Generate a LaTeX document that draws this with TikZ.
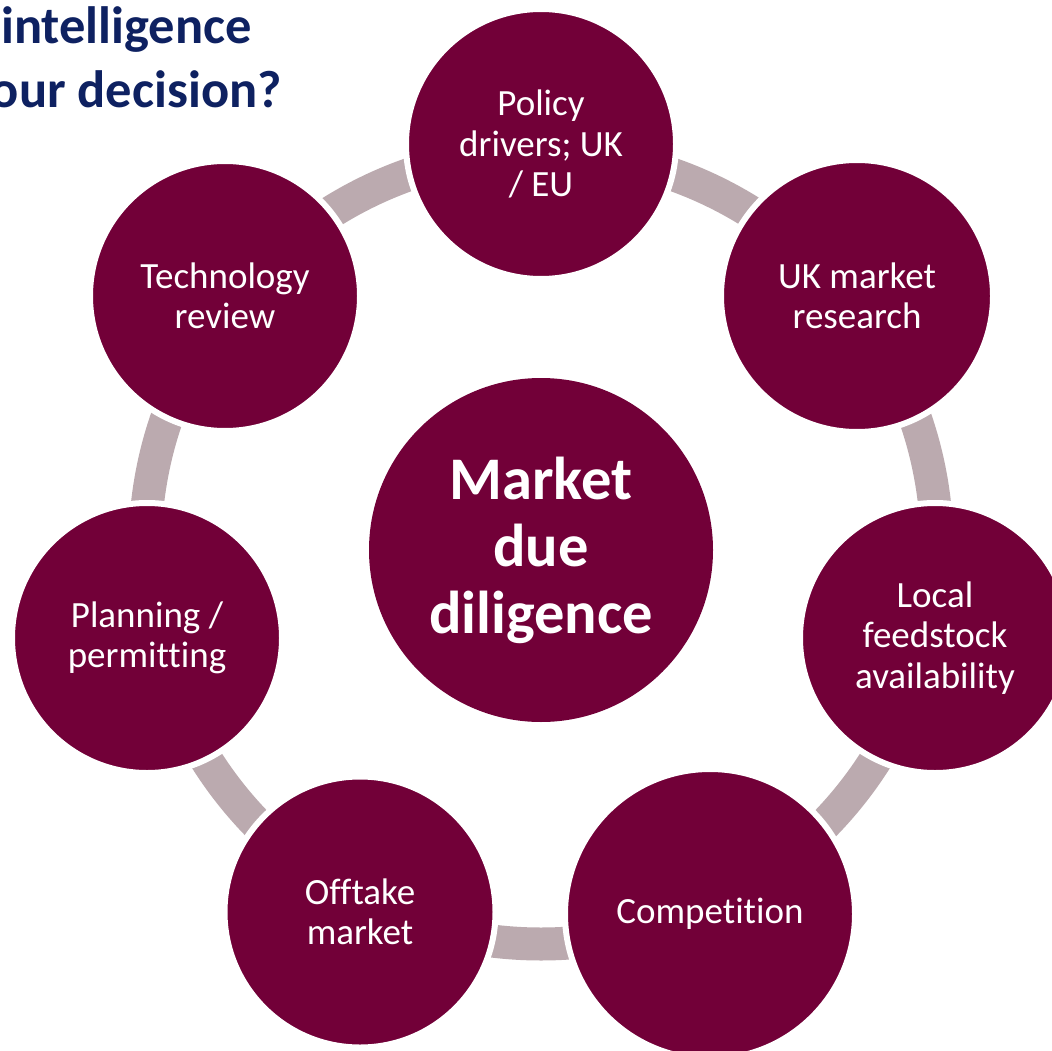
\documentclass[tikz,border=0pt]{standalone}
\usepackage{fontspec}
\setmainfont{Carlito}[Ligatures=CommonOff]
\definecolor{ddmaroon}{HTML}{720038}
\definecolor{ddgray}{HTML}{BBAAAF}
\definecolor{ddnavy}{HTML}{0E2161}
\begin{document}
\begin{tikzpicture}[x=1pt,y=-1pt,
  bubble/.style={circle, fill=ddmaroon, draw=white, line width=6pt, inner sep=0pt,
    align=center, text=white, font=\fontsize{37}{40.5}\selectfont},
  hub/.style={circle, fill=ddmaroon, inner sep=0pt, align=center, text=white,
    font=\fontsize{60.5}{67}\selectfont\bfseries},
  titletext/.style={anchor=base east, text=ddnavy, font=\fontsize{52.5}{63}\selectfont\bfseries, inner sep=0pt}
]
\useasboundingbox (0,0) rectangle (1052,1051);
\fill[white] (0,0) rectangle (1052,1051);
\coordinate (ring) at (541,548);
\draw[ddgray, line width=33pt] (ring) circle (396pt);

\node[titletext] (t1) at (252,44) {intelligence};
\node[titletext] (t2) at (282,108) {our decision?};

\node[bubble, minimum size=270pt] (policy) at (541,144) {Policy\\drivers; UK\\/ EU};
\node[bubble, minimum size=272pt] (ukmarket) at (857,296) {UK market\\research};
\node[bubble, minimum size=270pt] (local) at (935,638) {Local\\feedstock\\availability};
\node[bubble, minimum size=290pt] (comp) at (710,914) {Competition};
\node[bubble, minimum size=271pt] (offtake) at (360,912) {Offtake\\market};
\node[bubble, minimum size=270pt] (planning) at (147,638) {Planning /\\permitting};
\node[bubble, minimum size=270pt] (tech) at (225,296) {Technology\\review};

\node[hub, minimum size=344pt] (hubnode) at (541,550) {Market\\due\\diligence};
\end{tikzpicture}
\end{document}
